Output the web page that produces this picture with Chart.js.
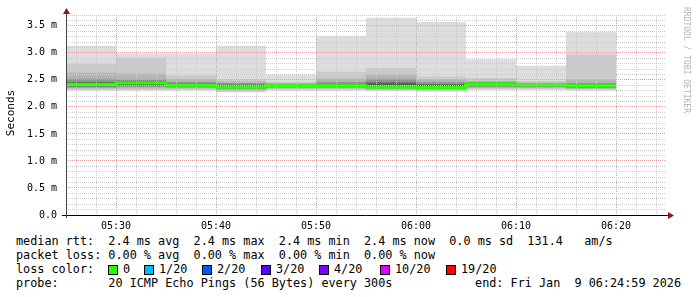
<!DOCTYPE html>
<html lang="en">

<head>
    <meta charset="UTF-8">
    <title>SmokePing</title>
    <script src="https://cdn.jsdelivr.net/npm/chart.js"></script>
    <style>
        body { margin: 0; background: #fff; }
        #wrap { position: relative; width: 697px; height: 297px; font-family: 'DejaVu Sans Mono', monospace; color: #000; }
        #myChart { position: absolute; left: 0; top: 0; }
        .row { position: absolute; left: 16px; font-size: 11.8px; line-height: 14px; white-space: pre; }
        .box { position: absolute; width: 8px; height: 8px; border: 1px solid #000; top: 3px; }
        .lbl { position: absolute; top: 0; }
        #unit { position: absolute; left: -29px; top: 106px; width: 80px; text-align: center; font-size: 11px; line-height: 14px; transform: rotate(-90deg); }
        #mark { position: absolute; left: 626px; top: 55px; width: 120px; text-align: center; font-size: 8px; line-height: 10px; color: #b4b4b4; transform: rotate(90deg); white-space: pre; }
    </style>
</head>

<body>
    <div id="wrap">
        <canvas id="myChart" width="697" height="230"></canvas>
        <div id="unit">Seconds</div>
        <div id="mark">RRDTOOL / TOBI OETIKER</div>
        <div class="row" id="rtt" style="top:234px"></div>
        <div class="row" id="loss" style="top:248px"></div>
        <div class="row" id="colors" style="top:262px"></div>
        <div class="row" id="probe" style="top:276px"></div>
    </div>
    <script>
        // 5 minute slots (start time), values in ms
        const slots = ['05:25', '05:30', '05:35', '05:40', '05:45', '05:50', '05:55', '06:00', '06:05', '06:10', '06:15'];
        const maxRtt = [3.13, 2.99, 2.99, 3.13, 2.60, 3.31, 3.65, 3.57, 2.88, 2.76, 3.39];
        const p95 = [2.80, 2.91, 2.58, 2.50, 2.46, 2.65, 2.72, 2.56, 2.53, 2.48, 2.97];
        const p85 = [2.63, 2.62, 2.51, 2.47, 2.44, 2.52, 2.60, 2.50, 2.48, 2.45, 2.50];
        const p70 = [2.52, 2.50, 2.46, 2.44, 2.42, 2.46, 2.52, 2.46, 2.46, 2.43, 2.44];
        const p60 = [2.46, 2.47, 2.43, 2.41, 2.41, 2.42, 2.45, 2.42, 2.45, 2.42, 2.41];
        const median = [2.42, 2.44, 2.40, 2.37, 2.39, 2.39, 2.37, 2.36, 2.43, 2.41, 2.39];
        const p40 = [2.38, 2.40, 2.38, 2.35, 2.38, 2.38, 2.35, 2.34, 2.40, 2.39, 2.37];
        const p30 = [2.36, 2.37, 2.36, 2.33, 2.36, 2.36, 2.34, 2.33, 2.37, 2.37, 2.35];
        const p15 = [2.34, 2.34, 2.34, 2.30, 2.34, 2.34, 2.32, 2.31, 2.35, 2.35, 2.33];
        const p05 = [2.32, 2.32, 2.32, 2.28, 2.32, 2.32, 2.31, 2.30, 2.33, 2.33, 2.32];
        const minRtt = [2.30, 2.30, 2.30, 2.27, 2.30, 2.30, 2.29, 2.28, 2.31, 2.31, 2.30];

        const axisStart = '05:25';
        const axisEnd = '06:25';
        const stepMin = 5;
        const yMax = 3.7;

        // legend values
        const rttStats = ['2.4 ms avg', '2.4 ms max', '2.4 ms min', '2.4 ms now', '0.0 ms sd', '131.4   am/s'];
        const lossStats = ['0.00 % avg', '0.00 % max', '0.00 % min', '0.00 % now'];
        const lossLabels = ['0', '1/20', '2/20', '3/20', '4/20', '10/20', '19/20'];
        const lossColors = ['#26ff00', '#00b8ff', '#0059ff', '#5e00ff', '#7e00ff', '#dd00ff', '#ff0000'];
        const probeText = '20 ICMP Echo Pings (56 Bytes) every 300s';
        const endText = 'end: Fri Jan  9 06:24:59 2026';

        function minutes(t) {
            const [h, m] = t.split(':').map(Number);
            return h * 60 + m;
        }
        const start = minutes(axisStart);

        function series(vals) {
            const pts = slots.map((s, i) => ({ x: minutes(s) - start, y: vals[i] }));
            const last = pts[pts.length - 1];
            pts.push({ x: last.x + stepMin, y: last.y }); // close last slot
            return pts;
        }

        // smoke bands, outer (light) to inner (dark)
        const bands = [
            [minRtt, maxRtt, '#dddddd'],
            [p05, p95, '#cacaca'],
            [p15, p85, '#b4b4b4'],
            [p30, p70, '#929292'],
            [p40, p60, '#5c5c5c']
        ];

        const datasets = [];
        bands.forEach((b, i) => {
            const loIdx = datasets.length;
            datasets.push({ data: series(b[0]), stepped: true, borderWidth: 0, pointRadius: 0, fill: false, order: 20 - i });
            datasets.push({ data: series(b[1]), stepped: true, borderWidth: 0, pointRadius: 0, fill: loIdx, backgroundColor: b[2], order: 20 - i });
        });
        datasets.push({ data: series(median), stepped: true, borderWidth: 3, borderColor: lossColors[0], pointRadius: 0, fill: false, order: 0 });

        const minorColor = '#cccccc';
        const majorColor = '#e49c9c';
        const tickFont = { family: 'DejaVu Sans Mono', size: 10 };

        const axisPlugin = {
            id: 'axes',
            afterDraw(chart) {
                const { ctx, chartArea: a } = chart;
                ctx.save();
                ctx.lineWidth = 1;
                ctx.strokeStyle = '#000';
                ctx.beginPath();
                ctx.moveTo(a.left - 4, a.bottom + 0.5);
                ctx.lineTo(a.right + 3, a.bottom + 0.5);
                ctx.stroke();
                ctx.strokeStyle = '#444';
                ctx.beginPath();
                ctx.moveTo(a.left + 0.5, a.bottom + 3);
                ctx.lineTo(a.left + 0.5, a.top - 3);
                ctx.stroke();
                ctx.fillStyle = '#8b1a1a';
                ctx.beginPath();
                ctx.moveTo(a.left + 0.5, a.top - 7);
                ctx.lineTo(a.left - 3, a.top - 1);
                ctx.lineTo(a.left + 4, a.top - 1);
                ctx.fill();
                ctx.beginPath();
                ctx.moveTo(a.right + 8, a.bottom + 0.5);
                ctx.lineTo(a.right + 2, a.bottom - 3);
                ctx.lineTo(a.right + 2, a.bottom + 4);
                ctx.fill();
                ctx.restore();
            }
        };

        const ctx = document.getElementById('myChart').getContext('2d');
        new Chart(ctx, {
            type: 'line',
            data: { datasets },
            options: {
                responsive: false,
                animation: false,
                layout: { padding: { top: 12, right: 31, left: 0, bottom: 0 } },
                plugins: { legend: { display: false }, tooltip: { enabled: false } },
                scales: {
                    x: {
                        type: 'linear',
                        min: 0,
                        max: minutes(axisEnd) - start,
                        afterBuildTicks(scale) {
                            const t = [];
                            for (let v = 1; v < scale.max; v++) {
                                if ((start + v) % 2 === 0) t.push({ value: v });
                            }
                            scale.ticks = t;
                        },
                        afterFit(scale) { scale.height = 15; },
                        ticks: {
                            autoSkip: false,
                            maxRotation: 0,
                            padding: 5,
                            color: '#000',
                            font: tickFont,
                            callback(v) {
                                const m = start + v;
                                if (m % 10 !== 0) return '';
                                return String(Math.floor(m / 60)).padStart(2, '0') + ':' + String(m % 60).padStart(2, '0');
                            }
                        },
                        grid: {
                            z: 1,
                            drawTicks: false,
                            color: c => ((start + c.tick.value) % 10 === 0 ? majorColor : minorColor)
                        },
                        border: { display: false, dash: [1, 1] }
                    },
                    y: {
                        type: 'linear',
                        min: 0,
                        max: yMax,
                        afterBuildTicks(scale) {
                            const t = [];
                            for (let i = 0; i <= Math.round(yMax * 10); i++) t.push({ value: i / 10 });
                            scale.ticks = t;
                        },
                        afterFit(scale) { scale.width = 66; },
                        ticks: {
                            autoSkip: false,
                            padding: 9,
                            color: '#000',
                            font: tickFont,
                            callback(v) {
                                const t = Math.round(v * 10);
                                if (t % 5 !== 0) return '';
                                return t === 0 ? '0.0' : (t / 10).toFixed(1) + ' m';
                            }
                        },
                        grid: {
                            z: 1,
                            drawTicks: false,
                            color: c => (Math.round(c.tick.value * 10) % 5 === 0 ? majorColor : minorColor)
                        },
                        border: { display: false, dash: [1, 1] }
                    }
                }
            },
            plugins: [axisPlugin]
        });

        // legend rows
        document.getElementById('rtt').textContent = 'median rtt:  ' + rttStats.join('  ');
        document.getElementById('loss').textContent = 'packet loss: ' + lossStats.join('  ');

        const boxX = [92, 128, 186, 245, 303, 364, 430];
        const colorRow = document.getElementById('colors');
        colorRow.textContent = 'loss color:';
        lossLabels.forEach((l, i) => {
            const b = document.createElement('span');
            b.className = 'box';
            b.style.left = boxX[i] + 'px';
            b.style.background = lossColors[i];
            colorRow.appendChild(b);
            const s = document.createElement('span');
            s.className = 'lbl';
            s.style.left = (boxX[i] + 15) + 'px';
            s.textContent = l;
            colorRow.appendChild(s);
        });

        const probeRow = document.getElementById('probe');
        probeRow.textContent = 'probe:       ' + probeText;
        const endSpan = document.createElement('span');
        endSpan.style.position = 'absolute';
        endSpan.style.right = '0px';
        endSpan.textContent = endText;
        probeRow.style.width = (681 - 16) + 'px';
        probeRow.appendChild(endSpan);
    </script>
</body>

</html>
